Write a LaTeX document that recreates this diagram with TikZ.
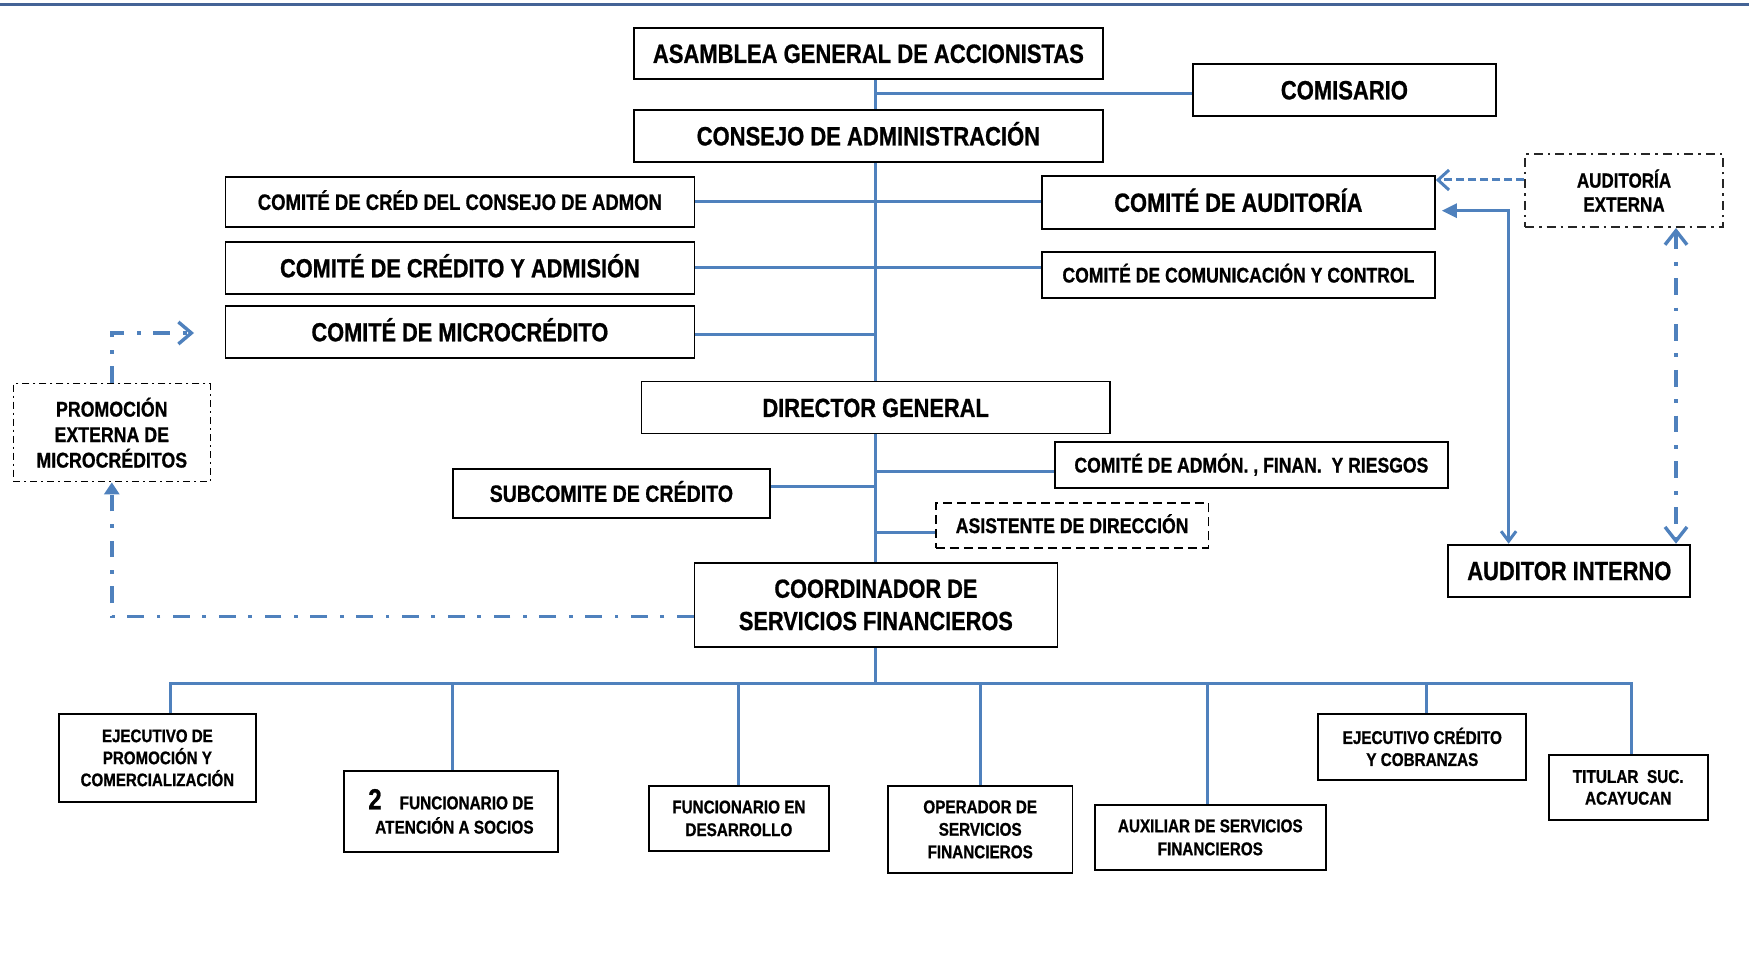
\documentclass[tikz,border=0pt]{standalone}
\usepackage{fontspec}
\setmainfont{Liberation Sans}[FakeStretch=0.83]
\newfontfamily\narrowbf{Liberation Sans Bold}[FakeStretch=0.83,FakeBold=0.8]
\usetikzlibrary{arrows.meta}
\pgfdeclarelayer{bg}
\pgfsetlayers{bg,main}
\definecolor{lblue}{RGB}{79,129,189}
\definecolor{topblue}{RGB}{68,99,150}
\newcommand{\fsz}[2]{\narrowbf\fontsize{#1}{#2}\selectfont}
\begin{document}
\begin{tikzpicture}[x=1pt,y=-1pt,
 box/.style={draw=black,line width=1.8pt,inner sep=0pt,anchor=north west,align=center,fill=white},
 capht/.style={text height=#1,text depth=0pt},
 conn/.style={draw=lblue,line width=3pt},
 dd/.style={draw=lblue,line width=3.4pt,dash pattern=on 16.7pt off 12.7pt on 3.7pt off 12.7pt},
 dsh/.style={draw=lblue,line width=3pt,dash pattern=on 8pt off 4pt},
 big/.style={font=\fsz{26.5}{30}}
]
\useasboundingbox (0,0) rectangle (1749,973);
\draw[topblue,line width=2.5pt] (0,4.5) -- (1749,4.5);

% top part
\node[box,big,capht=19pt,minimum width=469pt,minimum height=51pt] (asamblea) at (633,27) {ASAMBLEA GENERAL DE ACCIONISTAS};
\node[box,big,capht=19pt,minimum width=303pt,minimum height=52pt] (comisario) at (1192,63) {COMISARIO};
\node[box,big,capht=19pt,minimum width=469pt,minimum height=52pt] (consejo) at (633,109) {CONSEJO DE ADMINISTRACIÓN};
\node[box,font=\fsz{22.3}{26},capht=16pt,minimum width=469pt,minimum height=50pt] (credcons) at (224.5,176) {COMITÉ DE CRÉD DEL CONSEJO DE ADMON};
\node[box,font=\fsz{26.2}{29},capht=18.8pt,minimum width=469pt,minimum height=52pt] (credadm) at (224.5,241) {COMITÉ DE CRÉDITO Y ADMISIÓN};
\node[box,font=\fsz{26.2}{29},capht=18.8pt,minimum width=469pt,minimum height=52pt] (micro) at (224.5,305) {COMITÉ DE MICROCRÉDITO};
\node[box,font=\fsz{26.3}{30},capht=18.8pt,minimum width=393pt,minimum height=53pt] (audit) at (1041,175) {COMITÉ DE AUDITORÍA};
\node[box,font=\fsz{21.2}{26},capht=15.2pt,minimum width=393pt,minimum height=46pt] (comun) at (1041,251) {COMITÉ DE COMUNICACIÓN Y CONTROL};
\node[box,line width=1.4pt,dash pattern=on 7pt off 4pt on 2pt off 4pt,font=\fsz{21.4}{25.5},minimum width=197pt,minimum height=98pt] (promo) at (12.6,383) {PROMOCIÓN\\EXTERNA DE\\MICROCRÉDITOS};
\node[box,draw=black!85,line width=2pt,dash pattern=on 9pt off 5pt on 2.5pt off 5pt,font=\fsz{20.5}{24},minimum width=198pt,minimum height=73pt] (externa) at (1524,153) {AUDITORÍA\\EXTERNA};

% middle part
\node[box,font=\fsz{26.3}{29},capht=18.8pt,minimum width=468.5pt,minimum height=52pt] (director) at (640.5,380.7) {DIRECTOR GENERAL};
\node[box,font=\fsz{21.2}{25},capht=15.2pt,minimum width=393pt,minimum height=46pt] (admon) at (1054,441) {COMITÉ DE ADMÓN. , FINAN.\ \ Y RIESGOS};
\node[box,font=\fsz{23.6}{26},capht=16.9pt,minimum width=317pt,minimum height=49pt] (subcom) at (452,468) {SUBCOMITE DE CRÉDITO};
\node[box,dash pattern=on 9pt off 5pt,font=\fsz{21.3}{24},capht=15.3pt,minimum width=272.5pt,minimum height=45pt] (asist) at (935,502) {ASISTENTE DE DIRECCIÓN};
\node[box,font=\fsz{26.2}{32.3},minimum width=363pt,minimum height=84pt] (coord) at (693.5,562) {COORDINADOR DE\\SERVICIOS FINANCIEROS};
\node[box,font=\fsz{26.4}{28},capht=18.9pt,minimum width=242pt,minimum height=52pt] (interno) at (1447.4,543.7) {AUDITOR INTERNO};

% bottom part
\node[box,font=\fsz{18.2}{22},minimum width=197pt,minimum height=88pt] (ejprom) at (58,713) {EJECUTIVO DE\\PROMOCIÓN Y\\COMERCIALIZACIÓN};
\node[box,font=\fsz{18.5}{24.3},align=right,minimum width=214.7pt,minimum height=81pt] (func2) at (342.7,770) {{\fontsize{29}{24.3}\selectfont 2}\hspace{18pt}FUNCIONARIO DE\\ATENCIÓN A SOCIOS};
\node[box,font=\fsz{18.4}{22.7},minimum width=180pt,minimum height=65pt] (funcdes) at (648,785) {FUNCIONARIO EN\\DESARROLLO};
\node[box,font=\fsz{18.4}{22.5},minimum width=184.6pt,minimum height=87pt] (oper) at (887,785) {OPERADOR DE\\SERVICIOS\\FINANCIEROS};
\node[box,font=\fsz{18.4}{23},minimum width=231.2pt,minimum height=65pt] (aux) at (1093.8,804) {AUXILIAR DE SERVICIOS\\FINANCIEROS};
\node[box,font=\fsz{18.4}{22},minimum width=208pt,minimum height=66pt] (ejcred) at (1317.4,713) {EJECUTIVO CRÉDITO\\Y COBRANZAS};
\node[box,font=\fsz{18.5}{21.7},minimum width=158.7pt,minimum height=65pt] (titular) at (1548,754) {TITULAR\ \ SUC.\\ACAYUCAN};

\begin{pgfonlayer}{bg}
\coordinate (T) at (875,0);
\coordinate (yCom) at (0,94);
\coordinate (yMic) at (0,335);
\coordinate (ySub) at (0,486);
\coordinate (yAdm) at (0,471.7);
\coordinate (yAsi) at (0,532);
\coordinate (B) at (0,683);
\draw[conn] (T|-asamblea.south) -- (T|-consejo.north);
\draw[conn] (T|-yCom) -- (comisario.west|-yCom);
\draw[conn] (T|-consejo.south) -- (T|-director.north);
\draw[conn] (credcons.east) -- (credcons.east-|audit.west);
\draw[conn] (credadm.east) -- (credadm.east-|comun.west);
\draw[conn] (micro.east|-yMic) -- (T|-yMic);
\draw[conn] (T|-director.south) -- (T|-coord.north);
\draw[conn] (subcom.east|-ySub) -- (T|-ySub);
\draw[conn] (T|-yAdm) -- (admon.west|-yAdm);
\draw[conn] (T|-yAsi) -- (asist.west|-yAsi);
\draw[conn] (T|-coord.south) -- (T|-B);
\coordinate (b1) at (170,683);
\coordinate (b2) at (452,683);
\coordinate (b3) at (738,683);
\coordinate (b4) at (980,683);
\coordinate (b5) at (1207.5,683);
\coordinate (b6) at (1426.8,683);
\coordinate (b7) at (1631,683);
\draw[conn,line join=miter] (b1|-ejprom.north) -- (b1) -- (b7) -- (b7|-titular.north);
\draw[conn] (b2) -- (b2|-func2.north);
\draw[conn] (b3) -- (b3|-funcdes.north);
\draw[conn] (b4) -- (b4|-oper.north);
\draw[conn] (b5) -- (b5|-aux.north);
\draw[conn] (b6) -- (b6|-ejcred.north);

% promo arrows
\coordinate (pTip) at (194,333);
\draw[dd,-{Straight Barb[length=13pt,width=22pt]}] (promo.north) |- (pTip);
\coordinate (yCo) at (0,616.7);
\draw[dd,-{Triangle[length=12pt,width=15pt]}] (coord.west|-yCo) -| (promo.south);

% audit arrows
\coordinate (yEx) at (0,180);
\draw[dsh,-{Straight Barb[length=11pt,width=20pt]}] (externa.west|-yEx) -- (audit.east|-yEx);
\coordinate (xI) at (1508.6,210.7);
\draw[conn,shorten >=6pt,{Straight Barb[length=10pt,width=15pt]}-{Triangle[length=15pt,width=14pt]}] (xI|-interno.north) |- (audit.east|-xI);
\coordinate (xD) at (1676,0);
\draw[dd,{Straight Barb[length=14pt,width=22pt]}-{Straight Barb[length=14pt,width=22pt]}] (xD|-externa.south) -- (xD|-interno.north);
\end{pgfonlayer}
\end{tikzpicture}
\end{document}
